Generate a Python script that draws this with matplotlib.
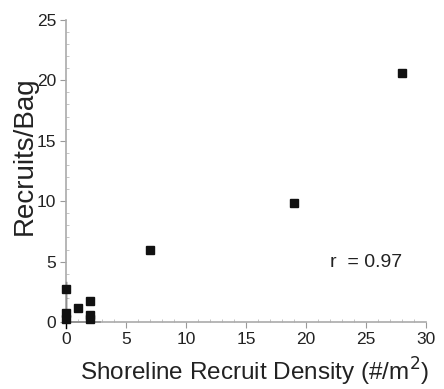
import matplotlib
matplotlib.use("Agg")
import matplotlib.pyplot as plt
from matplotlib.ticker import MultipleLocator

plt.rcParams['font.family'] = ['Liberation Sans', 'DejaVu Sans']

density = [0, 0, 0, 1, 2, 2, 2, 7, 19, 28]
recruits = [2.7, 0.75, 0.25, 1.2, 1.75, 0.6, 0.25, 5.95, 9.85, 20.6]
xticks = [0, 5, 10, 15, 20, 25, 30]
yticks = [0, 5, 10, 15, 20, 25]

fig = plt.figure(figsize=(4.44, 3.89), dpi=100)
ax = fig.add_axes([0.149, 0.172, 0.810, 0.777])
ax.plot(density, recruits, 's', color='#111111', markersize=5.8, clip_on=False, zorder=3)
ax.plot([0, 2.8], [0, 0], color='black', lw=1.2, zorder=2, clip_on=False)
ax.plot([0, 0], [-0.5, 3.3], color='black', lw=1.0, zorder=2, clip_on=False)

ax.set_xlim(0, 30)
ax.set_ylim(0, 25)
ax.set_xticks(xticks)
ax.set_yticks(yticks)
ax.xaxis.set_minor_locator(MultipleLocator(1))
ax.yaxis.set_minor_locator(MultipleLocator(1))
for s in ['top', 'right']:
    ax.spines[s].set_visible(False)
for s in ['left', 'bottom']:
    ax.spines[s].set_color('#aaaaaa')
    ax.spines[s].set_linewidth(1.2)
ax.tick_params(axis='both', which='major', direction='out', length=4, color='#999999',
               labelsize=12.5, labelcolor='#222222', pad=3)
ax.tick_params(axis='both', which='minor', direction='in', length=2, color='#bbbbbb')
ax.set_xlabel('Shoreline Recruit Density (#/m$^2$)', fontsize=17.5, color='#222222')
ax.xaxis.set_label_coords(0.525, -0.192, transform=ax.transAxes)
ax.xaxis.label.set_va('baseline')
ax.set_ylabel('Recruits/Bag', fontsize=20, color='#222222')
ax.yaxis.set_label_coords(-0.115, 0.55, transform=ax.transAxes)
ax.yaxis.label.set_va('center')
ax.text(22.0, 4.9, 'r  = 0.97', fontsize=14, color='#222222', ha='left', va='center')

fig.savefig('out.png', dpi=100)
